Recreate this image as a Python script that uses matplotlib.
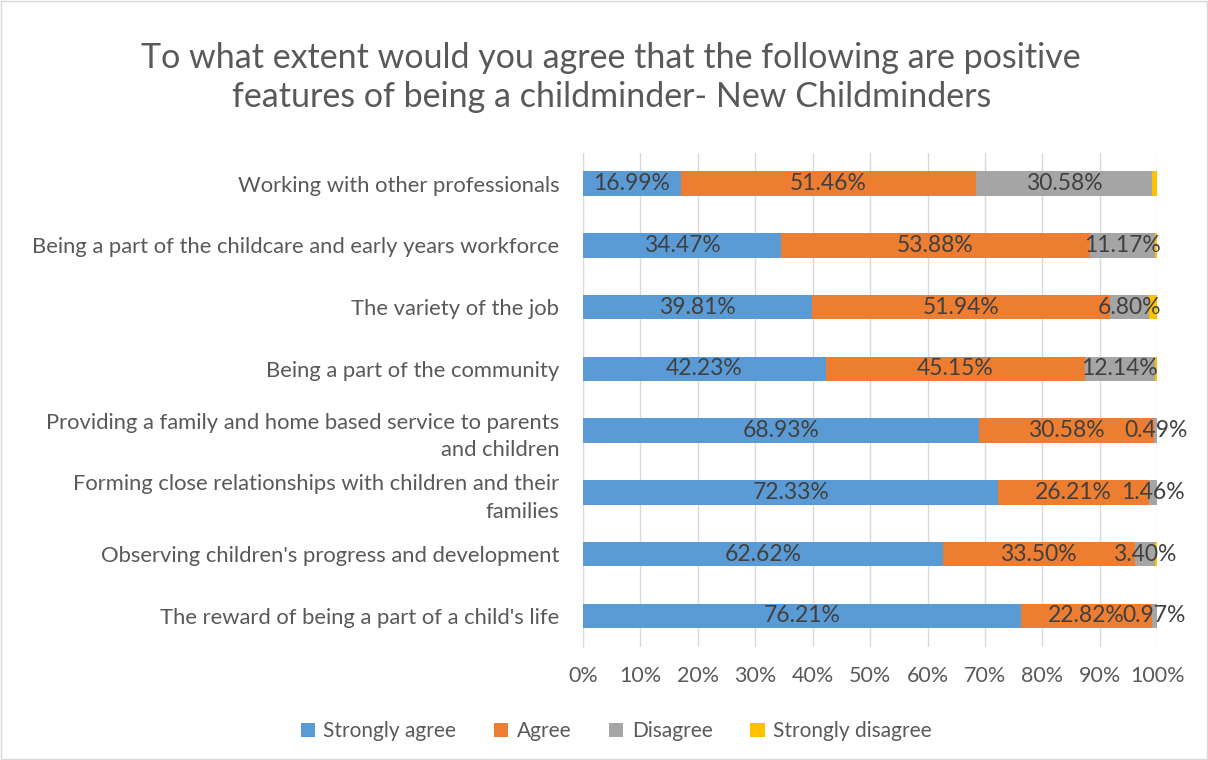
import numpy as np
import matplotlib.pyplot as plt
from matplotlib.patches import Rectangle

plt.rcParams['font.family'] = ['Lato', 'DejaVu Sans']

categories = [
    "Working with other professionals",
    "Being a part of the childcare and early years workforce",
    "The variety of the job",
    "Being a part of the community",
    "Providing a family and home based service to parents\nand children",
    "Forming close relationships with children and their\nfamilies",
    "Observing children's progress and development",
    "The reward of being a part of a child's life",
]
strongly_agree = [16.99, 34.47, 39.81, 42.23, 68.93, 72.33, 62.62, 76.21]
agree = [51.46, 53.88, 51.94, 45.15, 30.58, 26.21, 33.50, 22.82]
disagree = [30.58, 11.17, 6.80, 12.14, 0.49, 1.46, 3.40, 0.97]
strongly_disagree = [0.97, 0.48, 1.45, 0.48, 0.0, 0.0, 0.48, 0.0]

series = [
    ("Strongly agree", strongly_agree, "#5b9bd5", True),
    ("Agree", agree, "#ed7d31", True),
    ("Disagree", disagree, "#a5a5a5", True),
    ("Strongly disagree", strongly_disagree, "#ffc000", False),
]

TXT = "#595959"
LBL = "#404040"

fig = plt.figure(figsize=(12.08, 7.6), dpi=100)
fig.patches.append(Rectangle((0.001, 0.001), 0.998, 0.998, transform=fig.transFigure,
                             fill=False, ec="#d9d9d9", lw=1))
ax = fig.add_axes([0.4826, 0.149, 0.4754, 0.650])

y = np.arange(len(categories))
left = np.zeros(len(categories))
for name, vals, color, show in series:
    vals = np.array(vals)
    ax.barh(y, vals, left=left, height=0.4, color=color, label=name, zorder=3)
    if show:
        for yi, l, v in zip(y, left, vals):
            ax.text(l + v / 2, yi, f"{v:.2f}%", ha="center", va="center",
                    fontsize=16.5, color=LBL, zorder=4)
    left += vals

ax.set_ylim(len(categories) - 0.5, -0.5)
ax.set_xlim(0, 100)
ax.set_xticks(np.arange(0, 101, 10))
ax.set_xticklabels([f"{t}%" for t in range(0, 101, 10)])
ax.set_yticks(y)
ax.set_yticklabels(categories, ha="right", linespacing=1.45)
ax.tick_params(axis="both", length=0, labelsize=15.5, colors=TXT)
ax.tick_params(axis="y", labelsize=15.8)
ax.tick_params(axis="x", pad=14)
ax.tick_params(axis="y", pad=17)
ax.grid(axis="x", color="#d9d9d9", lw=1, zorder=0)
for s in ["top", "right", "bottom"]:
    ax.spines[s].set_visible(False)
ax.spines["left"].set_color("#d9d9d9")

fig.text(0.506, 0.898, "To what extent would you agree that the following are positive\n"
         "features of being a childminder- New Childminders",
         ha="center", va="center", fontsize=24.5, color=TXT, linespacing=1.3)

fig.legend(loc="center", bbox_to_anchor=(0.51, 0.038), ncol=4, frameon=False,
           fontsize=15, labelcolor=TXT, handlelength=0.7, handleheight=0.7,
           columnspacing=1.8, handletextpad=0.4)

plt.savefig("out.png")
